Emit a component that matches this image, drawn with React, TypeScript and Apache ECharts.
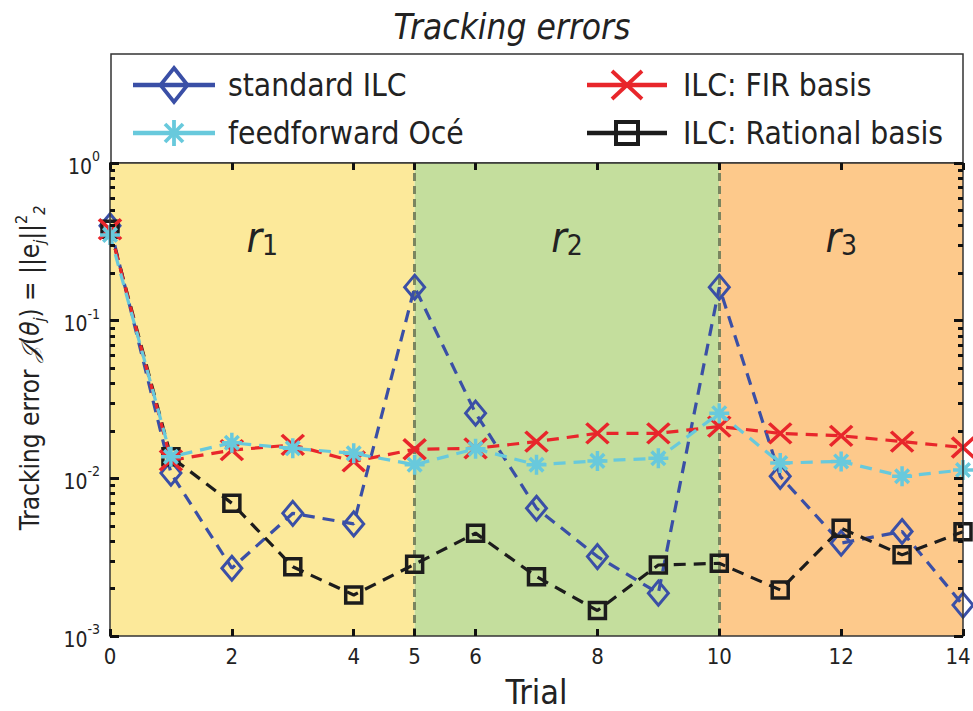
import React, { useEffect, useRef } from "react";
import * as echarts from "echarts";

const trials = [0, 1, 2, 3, 4, 5, 6, 7, 8, 9, 10, 11, 12, 13, 14];
const standardILC = [0.4, 0.0108, 0.00269, 0.006, 0.00514, 0.163, 0.0259, 0.00646, 0.00319, 0.00187, 0.163, 0.0103, 0.00388, 0.0046, 0.00157];
const feedforwardOce = [0.35, 0.0137, 0.0168, 0.0155, 0.0144, 0.0122, 0.0154, 0.0122, 0.0129, 0.0134, 0.0259, 0.0125, 0.0128, 0.0103, 0.0113];
const firBasis = [0.38, 0.013, 0.0151, 0.0163, 0.0128, 0.0153, 0.0155, 0.0171, 0.0193, 0.0193, 0.0213, 0.0193, 0.0186, 0.0171, 0.0157];
const rationalBasis = [0.38, 0.0137, 0.00695, 0.00275, 0.00182, 0.00285, 0.00449, 0.00238, 0.00145, 0.00282, 0.00289, 0.00196, 0.00482, 0.00327, 0.00459];

const regionBounds = [0, 5, 10, 14];
const regionNames = ["1", "2", "3"];
const regionColors = ["#fce99a", "#c4de9d", "#fdc98b"];
const regionDividers = [5, 10];

const xTicks = [0, 2, 4, 5, 6, 8, 10, 12, 14];
const yMajor = [0.001, 0.01, 0.1, 1];
const yMinor = [
  0.002, 0.003, 0.004, 0.005, 0.006, 0.007, 0.008, 0.009,
  0.02, 0.03, 0.04, 0.05, 0.06, 0.07, 0.08, 0.09,
  0.2, 0.3, 0.4, 0.5, 0.6, 0.7, 0.8, 0.9,
];

const legendNames = ["standard ILC", "feedforward Océ", "ILC: FIR basis", "ILC: Rational basis"];

const FONT = "'Liberation Sans Narrow', 'DejaVu Sans Condensed', 'Open Sans', sans-serif";
const TXT = "#222";

const BLUE = "#3a4fa6";
const CYAN = "#68c9dc";
const RED = "#e8262b";
const BLACK = "#1c1c1c";

const SYM_DIAMOND = "path://M5 0 L10 6 L5 12 L0 6 Z";
const SYM_X = "path://M0 0 L10 10 M10 0 L0 10";
const SYM_STAR = "path://M5 0 L5 10 M0 5 L10 5 M1.6 1.6 L8.4 8.4 M8.4 1.6 L1.6 8.4";
const SYM_SQUARE = "path://M0 0 L10 0 L10 10 L0 10 Z";

function lineSeries(name: string, values: number[], color: string, symbol: string, size: number | number[], z: number, width: number) {
  return {
    type: "line",
    name,
    data: trials.map((t, i) => [t, values[i]]),
    symbol,
    symbolSize: size,
    showAllSymbol: true,
    z,
    lineStyle: { color, width: 3.2, type: [12, 8] },
    itemStyle: { color: "none", borderColor: color, borderWidth: width },
    emphasis: { disabled: true },
  };
}

function yAxisDef(position: string, values: number[], length: number, labels: boolean, line: boolean) {
  return {
    type: "log",
    logBase: 10,
    min: 0.001,
    max: 1,
    position,
    z: 10,
    splitLine: { show: false },
    axisLine: { show: line, lineStyle: { color: "#333", width: 1.5 } },
    axisTick: { show: true, inside: true, customValues: values, length, lineStyle: { color: "#111", width: 3 } },
    axisLabel: labels
      ? {
          show: true,
          customValues: yMajor,
          margin: 10,
          formatter: (v: number) => `{b|10}{s|${Math.round(Math.log10(v))}}`,
          rich: {
            b: { fontFamily: FONT, fontSize: 21, color: TXT, lineHeight: 28, verticalAlign: "bottom" },
            s: { fontFamily: FONT, fontSize: 14, color: TXT, lineHeight: 14, verticalAlign: "top" },
          },
        }
      : { show: false },
  };
}

function legendGraphics() {
  const rows = [85, 133];
  const cols = [{ x0: 133, x1: 215 }, { x0: 587, x1: 667 }];
  const els: any[] = [];
  const lw = 4.5;
  const lineEl = (c: { x0: number; x1: number }, y: number, color: string) => ({
    type: "line",
    z: 20,
    shape: { x1: c.x0, y1: y, x2: c.x1, y2: y },
    style: { stroke: color, lineWidth: lw },
  });
  {
    const c = cols[0], y = rows[0], cx = (c.x0 + c.x1) / 2;
    els.push(lineEl(c, y, BLUE));
    els.push({ type: "polygon", z: 21, shape: { points: [[cx, y - 17], [cx + 13.5, y], [cx, y + 17], [cx - 13.5, y]] }, style: { fill: "none", stroke: BLUE, lineWidth: 3.8 } });
  }
  {
    const c = cols[0], y = rows[1], cx = (c.x0 + c.x1) / 2;
    els.push(lineEl(c, y, CYAN));
    const segs = [[0, -13, 0, 13], [-12, 0, 12, 0], [-9, -9, 9, 9], [9, -9, -9, 9]];
    segs.forEach((s) => els.push({ type: "line", z: 21, shape: { x1: cx + s[0], y1: y + s[1], x2: cx + s[2], y2: y + s[3] }, style: { stroke: CYAN, lineWidth: 3.8 } }));
  }
  {
    const c = cols[1], y = rows[0], cx = (c.x0 + c.x1) / 2;
    els.push(lineEl(c, y, RED));
    els.push({ type: "line", z: 21, shape: { x1: cx - 15, y1: y - 14, x2: cx + 15, y2: y + 14 }, style: { stroke: RED, lineWidth: 3.8 } });
    els.push({ type: "line", z: 21, shape: { x1: cx + 15, y1: y - 14, x2: cx - 15, y2: y + 14 }, style: { stroke: RED, lineWidth: 3.8 } });
  }
  {
    const c = cols[1], y = rows[1], cx = (c.x0 + c.x1) / 2;
    els.push(lineEl(c, y, BLACK));
    els.push({ type: "rect", z: 21, shape: { x: cx - 11, y: y - 11, width: 22, height: 22 }, style: { fill: "none", stroke: BLACK, lineWidth: 4 } });
  }
  const textPos = [[228, rows[0]], [228, rows[1]], [683, rows[0]], [683, rows[1]]];
  legendNames.forEach((n, i) => {
    els.push({
      type: "text",
      z: 21,
      x: textPos[i][0],
      y: textPos[i][1],
      style: { text: n, fontFamily: FONT, fontSize: 31.5, fill: TXT, align: "left", verticalAlign: "middle" },
    });
  });
  return els;
}

export default function App() {
  const ref = useRef<HTMLDivElement>(null);
  useEffect(() => {
    if (!ref.current) return;
    const chart = echarts.init(ref.current, null, { renderer: "svg" });
    const option: any = {
      animation: false,
      backgroundColor: "#fff",
      textStyle: { fontFamily: FONT },
      grid: { left: 110, right: 10, top: 163, bottom: 75, containLabel: false, outerBoundsMode: "none" },
      graphic: [
        { type: "rect", z: 0, shape: { x: 111, y: 54, width: 852, height: 109 }, style: { fill: "#fff", stroke: "#333", lineWidth: 1.5 } },
        {
          type: "text",
          x: 512,
          y: 27,
          style: { text: "Tracking errors", fontFamily: FONT, fontStyle: "italic", fontSize: 35, fill: TXT, align: "center", verticalAlign: "middle" },
        },
        {
          type: "text",
          x: 30,
          y: 368,
          rotation: Math.PI / 2,
          style: {
            text: "{n|Tracking error }{m|𝒥}{n|(}{i|θ}{sub|j}{n|) = ||e}{sub|j}{n|||}{sup|2}{sub|2}",
            align: "center",
            verticalAlign: "middle",
            rich: {
              n: { fontFamily: FONT, fontSize: 26, fill: TXT, lineHeight: 34, verticalAlign: "middle" },
              m: { fontFamily: "'DejaVu Sans', 'Noto Sans', serif", fontStyle: "italic", fontSize: 24, fill: TXT, lineHeight: 34, verticalAlign: "middle" },
              i: { fontFamily: FONT, fontStyle: "italic", fontSize: 26, fill: TXT, lineHeight: 34, verticalAlign: "middle" },
              sub: { fontFamily: FONT, fontStyle: "italic", fontSize: 16, fill: TXT, lineHeight: 16, verticalAlign: "bottom" },
              sup: { fontFamily: FONT, fontSize: 16, fill: TXT, lineHeight: 16, verticalAlign: "top" },
            },
          },
        },
        ...legendGraphics(),
      ],
      xAxis: [
        {
          type: "value",
          min: 0,
          max: 14,
          position: "bottom",
          z: 10,
          name: "Trial",
          nameLocation: "middle",
          nameGap: 38,
          nameTextStyle: { fontFamily: FONT, fontSize: 34, lineHeight: 36, color: TXT },
          splitLine: { show: false },
          axisLine: { show: true, lineStyle: { color: "#333", width: 1.5 } },
          axisTick: { show: true, inside: true, customValues: xTicks, length: 7, lineStyle: { color: "#111", width: 3 } },
          axisLabel: {
            show: true,
            customValues: xTicks,
            margin: 9,
            formatter: (v: number) => (v === 14 ? `{e|${v}}` : `${v}`),
            fontFamily: FONT,
            fontSize: 22,
            color: TXT,
            rich: { e: { fontFamily: FONT, fontSize: 22, color: TXT, padding: [0, 10, 0, 0] } },
          },
        },
        {
          type: "value",
          min: 0,
          max: 14,
          position: "top",
          z: 10,
          splitLine: { show: false },
          axisLine: { show: true, lineStyle: { color: "#333", width: 1.5 } },
          axisTick: { show: true, inside: true, customValues: xTicks, length: 7, lineStyle: { color: "#111", width: 3 } },
          axisLabel: { show: false },
        },
      ],
      yAxis: [
        yAxisDef("left", yMajor, 9, true, true),
        yAxisDef("left", yMinor, 5, false, false),
        yAxisDef("right", yMajor, 9, false, true),
        yAxisDef("right", yMinor, 5, false, false),
      ],
      series: [
        {
          ...lineSeries("standard ILC", standardILC, BLUE, SYM_DIAMOND, [20, 24], 2, 3),
          markArea: {
            silent: true,
            z: 0,
            label: {
              show: true,
              position: "insideTop",
              distance: 52,
              formatter: (p: any) => `{r|r}{s|${p.name}}`,
              rich: {
                r: { fontFamily: FONT, fontStyle: "italic", fontSize: 42, color: TXT, lineHeight: 44, verticalAlign: "middle" },
                s: { fontFamily: FONT, fontSize: 28, color: TXT, lineHeight: 27, verticalAlign: "bottom" },
              },
            },
            data: regionNames.map((n, i) => [
              { name: n, xAxis: regionBounds[i], itemStyle: { color: regionColors[i] } },
              { xAxis: regionBounds[i + 1] },
            ]),
          },
          markLine: {
            silent: true,
            z: 1,
            symbol: ["none", "none"],
            label: { show: false },
            lineStyle: { color: "#7a8560", width: 3, type: [8, 5] },
            data: regionDividers.map((d) => ({ xAxis: d })),
          },
        },
        lineSeries("ILC: Rational basis", rationalBasis, BLACK, SYM_SQUARE, 16, 3, 3.5),
        lineSeries("ILC: FIR basis", firBasis, RED, SYM_X, [22, 20], 4, 3.5),
        lineSeries("feedforward Océ", feedforwardOce, CYAN, SYM_STAR, 20, 5, 3.5),
      ],
    };
    chart.setOption(option);
    return () => chart.dispose();
  }, []);
  return <div ref={ref} style={{ position: "fixed", left: 0, top: 0, width: 973, height: 711 }} />;
}
